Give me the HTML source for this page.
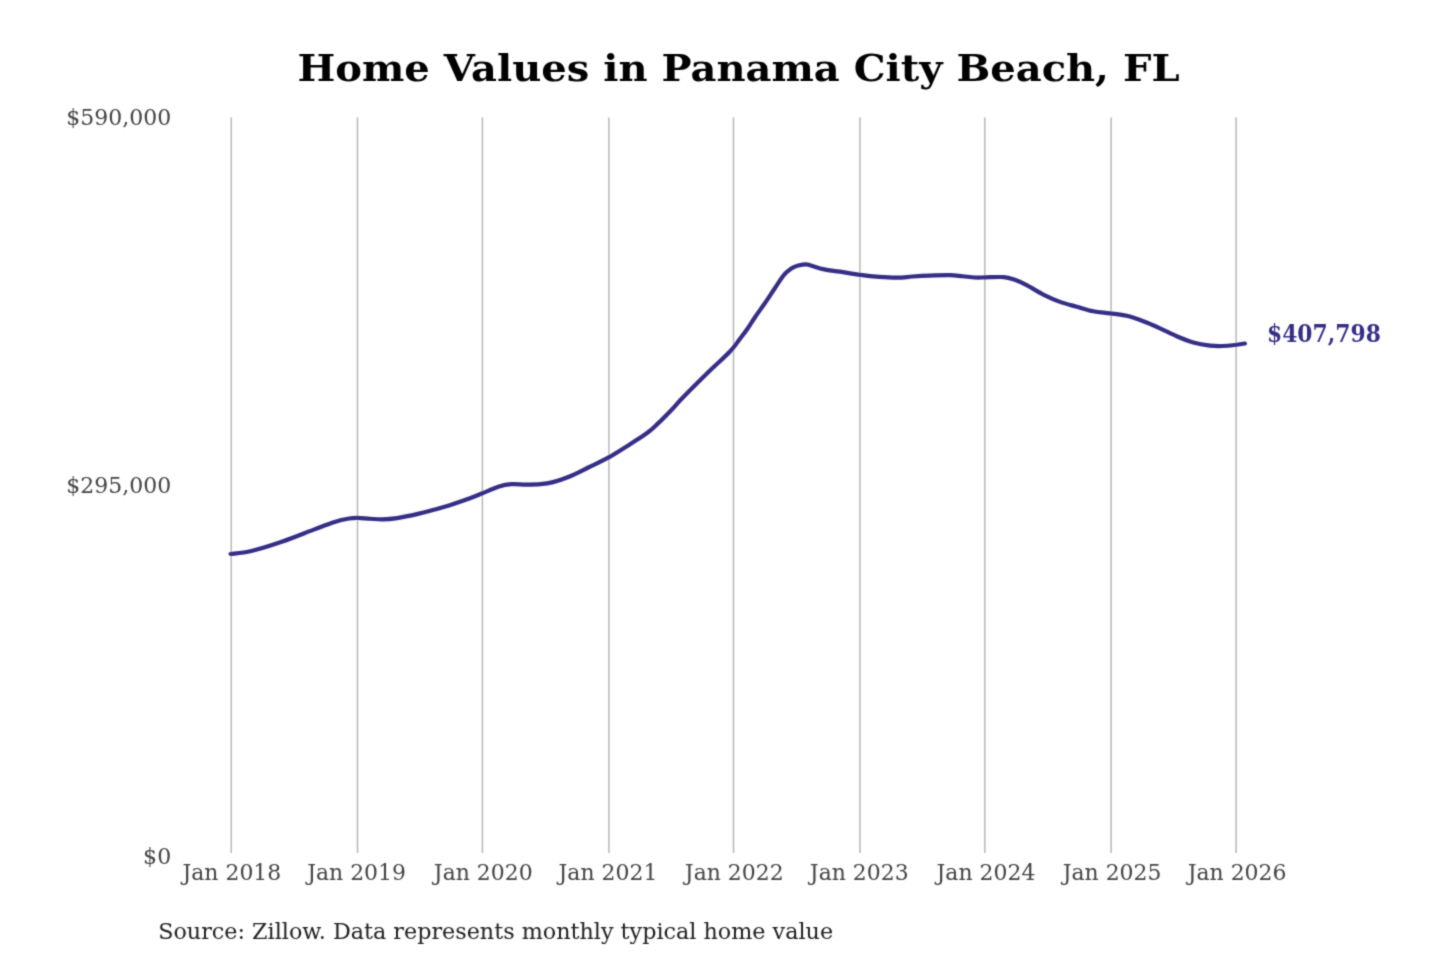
<!DOCTYPE html>
<html><head><meta charset="utf-8"><title>Home Values in Panama City Beach, FL</title>
<style>
html,body{margin:0;padding:0;background:#fff;}
body{width:1440px;height:960px;overflow:hidden;}
svg{display:block;}
text{font-family:"DejaVu Serif","Liberation Serif",serif;}
.title{font-weight:bold;fill:#000;}
.grid line{stroke:#b8b8b8;stroke-width:1.5;}
.tick{fill:#444;}
.src{fill:#222;}
.end{font-weight:bold;fill:#352d86;}
</style></head><body>
<svg width="1440" height="960" viewBox="0 0 1440 960">
<defs><filter id="soft" x="0" y="0" width="1440" height="960" filterUnits="userSpaceOnUse"><feConvolveMatrix order="3" kernelMatrix="1 4 1 4 16 4 1 4 1" divisor="36" edgeMode="duplicate" preserveAlpha="false"/></filter></defs>
<rect width="1440" height="960" fill="#fff"/>
<g filter="url(#soft)">
<text class="title" font-size="37.9" transform="translate(297.50 81.00) scale(1.0563 1)">Home Values in Panama City Beach, FL</text>
<g class="grid">
<line x1="231.20" y1="117.5" x2="231.20" y2="853"/>
<line x1="357.50" y1="117.5" x2="357.50" y2="853"/>
<line x1="482.40" y1="117.5" x2="482.40" y2="853"/>
<line x1="608.90" y1="117.5" x2="608.90" y2="853"/>
<line x1="733.50" y1="117.5" x2="733.50" y2="853"/>
<line x1="859.90" y1="117.5" x2="859.90" y2="853"/>
<line x1="984.80" y1="117.5" x2="984.80" y2="853"/>
<line x1="1111.10" y1="117.5" x2="1111.10" y2="853"/>
<line x1="1236.10" y1="117.5" x2="1236.10" y2="853"/>
</g>
<g>
<text class="tick" font-size="22.3" transform="translate(66.22 124.90) scale(0.9874 1)">$590,000</text>
<text class="tick" font-size="22.3" transform="translate(66.22 492.60) scale(0.9874 1)">$295,000</text>
<text class="tick" font-size="22.3" transform="translate(143.12 864.00) scale(0.9880 1)">$0</text>
</g>
<g>
<text class="tick" font-size="22.3" transform="translate(182.47 879.70) scale(0.9841 1)">Jan 2018</text>
<text class="tick" font-size="22.3" transform="translate(307.17 879.70) scale(0.9841 1)">Jan 2019</text>
<text class="tick" font-size="22.3" transform="translate(433.87 879.70) scale(0.9841 1)">Jan 2020</text>
<text class="tick" font-size="22.3" transform="translate(558.57 879.70) scale(0.9841 1)">Jan 2021</text>
<text class="tick" font-size="22.3" transform="translate(684.87 879.70) scale(0.9841 1)">Jan 2022</text>
<text class="tick" font-size="22.3" transform="translate(809.87 879.70) scale(0.9841 1)">Jan 2023</text>
<text class="tick" font-size="22.3" transform="translate(936.57 879.70) scale(0.9841 1)">Jan 2024</text>
<text class="tick" font-size="22.3" transform="translate(1062.67 879.70) scale(0.9841 1)">Jan 2025</text>
<text class="tick" font-size="22.3" transform="translate(1187.67 879.70) scale(0.9841 1)">Jan 2026</text>
</g>
<path d="M230.60 554.00 C234.04 553.50 242.60 553.08 251.25 551.00 C259.90 548.92 272.08 545.07 282.50 541.50 C292.92 537.93 305.07 532.87 313.75 529.60 C322.43 526.33 328.69 523.75 334.60 521.90 C340.51 520.05 345.38 519.17 349.20 518.50 C353.02 517.83 354.03 517.86 357.50 517.90 C360.97 517.94 365.83 518.50 370.00 518.75 C374.17 519.00 378.00 519.51 382.50 519.40 C387.00 519.29 391.08 519.02 397.00 518.10 C402.92 517.18 412.00 515.25 418.00 513.90 C424.00 512.55 427.83 511.42 433.00 510.00 C438.17 508.58 442.83 507.35 449.00 505.40 C455.17 503.45 464.42 500.33 470.00 498.30 C475.58 496.27 477.67 495.17 482.50 493.20 C487.33 491.23 494.17 488.00 499.00 486.50 C503.83 485.00 507.03 484.52 511.50 484.20 C515.97 483.88 520.98 484.60 525.80 484.60 C530.62 484.60 535.87 484.62 540.40 484.20 C544.93 483.78 548.13 483.38 553.00 482.10 C557.87 480.82 563.72 478.93 569.60 476.50 C575.48 474.07 581.70 470.73 588.30 467.50 C594.90 464.27 602.25 460.98 609.20 457.10 C616.15 453.22 623.75 448.17 630.00 444.20 C636.25 440.23 642.20 436.60 646.70 433.30 C651.20 430.00 652.83 428.33 657.00 424.40 C661.17 420.47 667.87 413.68 671.70 409.70 C675.53 405.72 677.23 403.45 680.00 400.50 C682.77 397.55 683.43 396.88 688.30 392.00 C693.17 387.12 702.25 378.00 709.20 371.25 C716.15 364.50 724.87 356.92 730.00 351.50 C735.13 346.08 737.08 342.54 740.00 338.75 C742.92 334.96 745.00 332.34 747.50 328.75 C750.00 325.16 752.08 321.49 755.00 317.20 C757.92 312.91 761.67 307.87 765.00 303.00 C768.33 298.13 771.95 292.53 775.00 288.00 C778.05 283.47 781.08 278.67 783.30 275.80 C785.52 272.93 786.63 272.22 788.30 270.80 C789.97 269.38 791.63 268.18 793.30 267.30 C794.97 266.42 796.22 266.00 798.30 265.50 C800.38 265.00 803.68 264.28 805.80 264.30 C807.92 264.32 807.93 264.75 811.00 265.60 C814.07 266.45 819.37 268.38 824.20 269.40 C829.03 270.42 833.97 270.78 840.00 271.70 C846.03 272.62 853.87 274.03 860.40 274.90 C866.93 275.77 872.95 276.43 879.20 276.90 C885.45 277.37 892.35 277.77 897.90 277.70 C903.45 277.63 907.28 276.85 912.50 276.50 C917.72 276.15 922.95 275.82 929.20 275.60 C935.45 275.38 944.45 275.09 950.00 275.20 C955.55 275.31 958.33 275.87 962.50 276.25 C966.67 276.63 971.18 277.31 975.00 277.50 C978.82 277.69 980.61 277.47 985.40 277.40 C990.19 277.33 998.95 276.73 1003.75 277.10 C1008.55 277.47 1010.38 278.25 1014.20 279.60 C1018.03 280.95 1021.85 282.70 1026.70 285.20 C1031.55 287.70 1037.75 291.82 1043.30 294.60 C1048.85 297.38 1054.43 299.88 1060.00 301.90 C1065.57 303.92 1071.15 305.14 1076.70 306.70 C1082.25 308.26 1087.75 310.15 1093.30 311.25 C1098.85 312.35 1104.43 312.54 1110.00 313.30 C1115.57 314.06 1121.15 314.48 1126.70 315.80 C1132.25 317.12 1137.75 319.17 1143.30 321.25 C1148.85 323.33 1154.43 325.80 1160.00 328.30 C1165.57 330.80 1171.15 333.88 1176.70 336.25 C1182.25 338.62 1187.75 340.94 1193.30 342.50 C1198.85 344.06 1205.13 345.02 1210.00 345.60 C1214.87 346.18 1218.33 346.10 1222.50 346.00 C1226.67 345.90 1231.27 345.42 1235.00 345.00 C1238.73 344.58 1243.25 343.75 1244.90 343.50" fill="none" stroke="#352d86" stroke-width="4.2" stroke-linecap="round" stroke-linejoin="round"/>
<text class="end" font-size="23.8" transform="translate(1266.97 341.90) scale(0.9180 1)">$407,798</text>
<text class="src" font-size="22" transform="translate(158.18 939.00) scale(1.0134 1)">Source: Zillow. Data represents monthly typical home value</text>
</g>
</svg>
</body></html>
